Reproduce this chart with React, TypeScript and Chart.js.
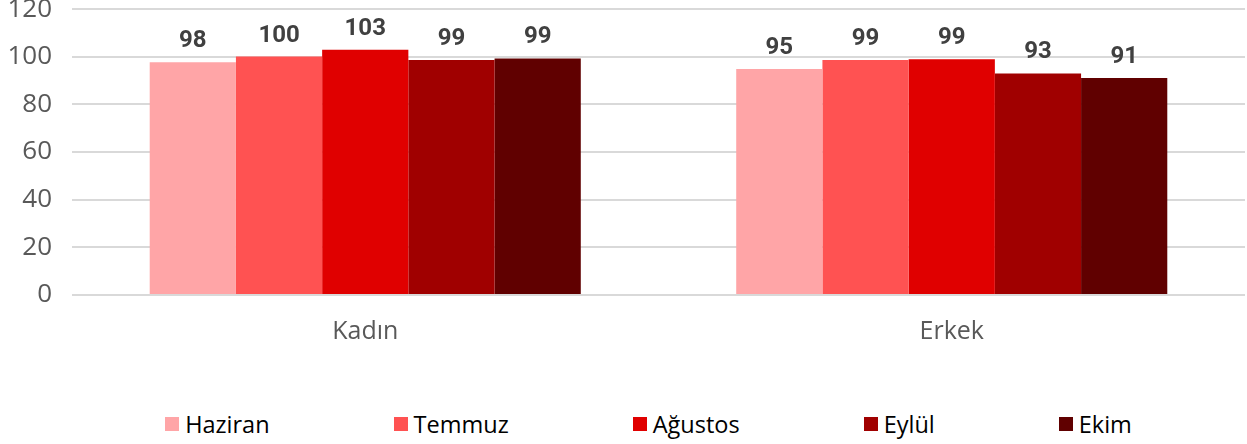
import React, { useEffect, useRef } from "react";
import { Chart, registerables } from "chart.js";

Chart.register(...registerables);

const categories = ["Kadın", "Erkek"];
const seriesNames = ["Haziran", "Temmuz", "Ağustos", "Eylül", "Ekim"];
const haziran = [97.7, 94.9];
const temmuz = [100.1, 98.6];
const agustos = [102.9, 99.0];
const eylul = [98.6, 93.0];
const ekim = [99.3, 91.1];
const seriesColors = ["#FFA5A7", "#FF5252", "#E00000", "#A00000", "#600000"];
const yTicks = [0, 20, 40, 60, 80, 100, 120];

const seriesValues = [haziran, temmuz, agustos, eylul, ekim];

const labelPlugin = {
  id: "barValueLabels",
  afterDatasetsDraw(chart: any) {
    const ctx = chart.ctx;
    ctx.save();
    ctx.font = "bold 24px Roboto, 'DejaVu Sans', sans-serif";
    ctx.fillStyle = "#404040";
    ctx.textAlign = "center";
    ctx.textBaseline = "bottom";
    chart.data.datasets.forEach((ds: any, i: number) => {
      const meta = chart.getDatasetMeta(i);
      meta.data.forEach((bar: any, j: number) => {
        const v = ds.data[j];
        ctx.fillText(String(Math.round(v)), bar.x, bar.y - 9);
      });
    });
    ctx.restore();
  },
};

export default function App() {
  const ref = useRef<HTMLCanvasElement | null>(null);
  useEffect(() => {
    if (!ref.current) return;
    const chart = new Chart(ref.current, {
      type: "bar",
      data: {
        labels: categories,
        datasets: seriesNames.map((name, i) => ({
          label: name,
          data: seriesValues[i],
          backgroundColor: seriesColors[i],
          borderWidth: 0,
          categoryPercentage: 0.735,
          barPercentage: 1,
        })),
      },
      options: {
        animation: false,
        responsive: false,
        maintainAspectRatio: false,
        layout: { padding: { left: 8, right: 2, top: 0, bottom: 15 } },
        plugins: {
          legend: { display: false },
          tooltip: { enabled: false },
        },
        scales: {
          x: {
            grid: { display: false, drawTicks: false },
            border: { display: false },
            ticks: {
              color: "#595959",
              font: { family: "'Open Sans', sans-serif", size: 25 },
              padding: 22,
            },
          },
          y: {
            min: 0,
            max: 120,
            afterBuildTicks: (axis: any) => {
              axis.ticks = yTicks.map((v) => ({ value: v }));
            },
            afterFit: (axis: any) => {
              axis.width = 64;
            },
            grid: {
              color: "#D9D9D9",
              lineWidth: 2,
              drawTicks: true,
              tickLength: 20,
              tickColor: "rgba(0,0,0,0)",
            },
            border: { display: false },
            ticks: {
              color: "#595959",
              font: { family: "'Open Sans', sans-serif", size: 26, lineHeight: 0.7 },
              padding: 0,
            },
          },
        },
      },
      plugins: [labelPlugin],
    });
    return () => chart.destroy();
  }, []);

  return (
    <div
      style={{
        position: "fixed",
        left: 0,
        top: 0,
        width: 1247,
        height: 444,
        background: "#fff",
      }}
    >
      <canvas ref={ref} width={1247} height={384} style={{ display: "block" }} />
      <div
        style={{
          display: "flex",
          justifyContent: "center",
          alignItems: "center",
          height: 32,
          marginTop: 24,
          paddingLeft: 50,
          boxSizing: "border-box",
          fontFamily: "'Open Sans', sans-serif",
          fontSize: 23.5,
          color: "#000",
          gap: 124,
        }}
      >
        {seriesNames.map((name, i) => (
          <div key={name} style={{ display: "flex", alignItems: "center" }}>
            <span
              style={{
                display: "inline-block",
                width: 14,
                height: 14,
                background: seriesColors[i],
                marginRight: 6,
              }}
            />
            <span>{name}</span>
          </div>
        ))}
      </div>
    </div>
  );
}
